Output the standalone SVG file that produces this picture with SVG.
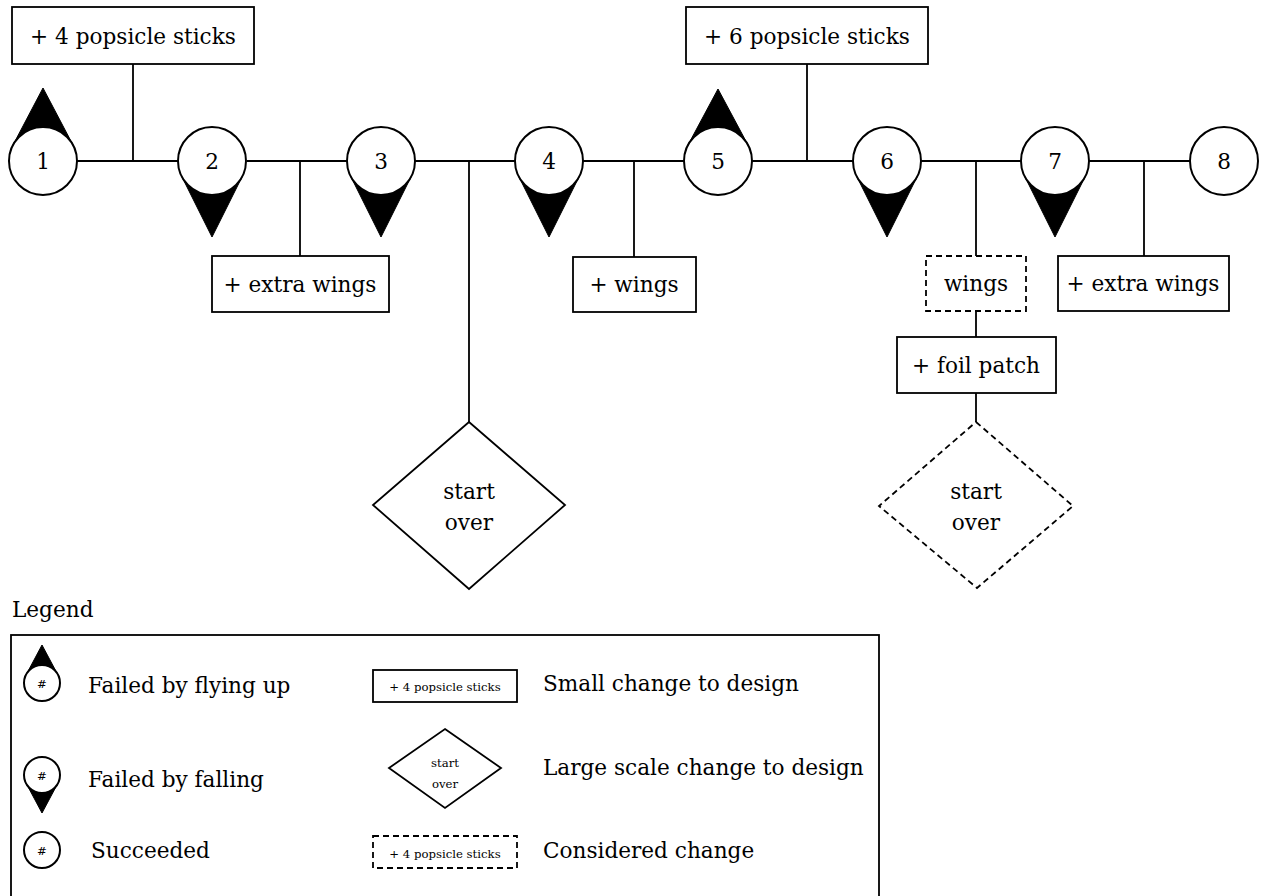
<svg xmlns="http://www.w3.org/2000/svg" width="1261" height="896" viewBox="0 0 1261 896">
<style>
text{font-family:"DejaVu Serif","Liberation Serif",serif;fill:#000;text-anchor:middle}
.big{font-size:21.6px}
.sm{font-size:11.7px}
.lt{text-anchor:start}
.box{fill:#fff;stroke:#000;stroke-width:1.8}
.dash{fill:#fff;stroke:#000;stroke-width:1.8;stroke-dasharray:6 4}
.node{fill:#fff;stroke:#000;stroke-width:2}
.tri{fill:#000;stroke:#000;stroke-width:1}
.ln{fill:none;stroke:#000;stroke-width:1.8}
</style>
<rect width="1261" height="896" fill="#fff"/>
<g id="connectors">
<path class="ln" d="M77 161H179M133 64V161M247 161H347M300 161V256M415 161H515M469 161V422M583 161H684M634 161V257M752 161H853M807 64V161M921 161H1021M976 161V256M976 311V337M976 393V422M1089 161H1190M1144 161V256"/>
</g>
<g id="n1"><polygon class="tri" points="43,88 13,145 73,145"/><circle class="node" cx="43" cy="161" r="34"/><text class="big" x="43" y="169">1</text></g>
<g id="n2"><polygon class="tri" points="212,237 182,177 242,177"/><circle class="node" cx="212" cy="161" r="34"/><text class="big" x="212" y="169">2</text></g>
<g id="n3"><polygon class="tri" points="381,237 351,177 411,177"/><circle class="node" cx="381" cy="161" r="34"/><text class="big" x="381" y="169">3</text></g>
<g id="n4"><polygon class="tri" points="549,237 519,177 579,177"/><circle class="node" cx="549" cy="161" r="34"/><text class="big" x="549" y="169">4</text></g>
<g id="n5"><polygon class="tri" points="718,89 688,145 748,145"/><circle class="node" cx="718" cy="161" r="34"/><text class="big" x="718" y="169">5</text></g>
<g id="n6"><polygon class="tri" points="887,237 857,177 917,177"/><circle class="node" cx="887" cy="161" r="34"/><text class="big" x="887" y="169">6</text></g>
<g id="n7"><polygon class="tri" points="1055,237 1025,177 1085,177"/><circle class="node" cx="1055" cy="161" r="34"/><text class="big" x="1055" y="169">7</text></g>
<g id="n8"><circle class="node" cx="1224" cy="161" r="34"/><text class="big" x="1224" y="169">8</text></g>
<g id="b4sticks"><rect class="box" x="12" y="7" width="242" height="57"/><text class="big" x="133" y="44">+ 4 popsicle sticks</text></g>
<g id="b6sticks"><rect class="box" x="686" y="7" width="242" height="57"/><text class="big" x="807" y="44">+ 6 popsicle sticks</text></g>
<g id="bextra1"><rect class="box" x="212" y="256" width="177" height="56"/><text class="big" x="300" y="292">+ extra wings</text></g>
<g id="bwings"><rect class="box" x="573" y="257" width="123" height="55"/><text class="big" x="634" y="292">+ wings</text></g>
<g id="bwingsd"><rect class="dash" x="926" y="256" width="100" height="55"/><text class="big" x="976" y="291">wings</text></g>
<g id="bextra2"><rect class="box" x="1058" y="256" width="171" height="55"/><text class="big" x="1143" y="291">+ extra wings</text></g>
<g id="bfoil"><rect class="box" x="897" y="337" width="159" height="56"/><text class="big" x="976" y="373">+ foil patch</text></g>
<g id="d1"><polygon class="box" points="469,422 565,505 469,589 373,505"/><text class="big" x="469" y="499">start</text><text class="big" x="469" y="530">over</text></g>
<g id="d2"><polygon class="dash" points="976,422 1073,506 977,588 879,506"/><text class="big" x="976" y="499">start</text><text class="big" x="976" y="530">over</text></g>
<g id="legend">
<text class="big lt" x="12" y="617">Legend</text>
<rect class="box" x="11" y="635" width="868" height="270"/>
<polygon class="tri" points="42,645 26,675 58,675"/><circle class="node" cx="42" cy="683" r="18"/><text class="sm" x="42" y="688">#</text>
<text class="big lt" x="88" y="693">Failed by flying up</text>
<polygon class="tri" points="42,813 26,783 58,783"/><circle class="node" cx="42" cy="775" r="18"/><text class="sm" x="42" y="780">#</text>
<text class="big lt" x="88" y="787">Failed by falling</text>
<circle class="node" cx="42" cy="850" r="18"/><text class="sm" x="42" y="855">#</text>
<text class="big lt" x="91" y="858">Succeeded</text>
<rect class="box" x="373" y="670" width="144" height="32"/><text class="sm" x="445" y="691">+ 4 popsicle sticks</text>
<text class="big lt" x="543" y="691">Small change to design</text>
<polygon class="box" points="445,729 501,768 445,808 389,768"/><text class="sm" x="445" y="767">start</text><text class="sm" x="445" y="788">over</text>
<text class="big lt" x="543" y="775">Large scale change to design</text>
<rect class="dash" x="373" y="836" width="144" height="32"/><text class="sm" x="445" y="858">+ 4 popsicle sticks</text>
<text class="big lt" x="543" y="858">Considered change</text>
</g>
</svg>
